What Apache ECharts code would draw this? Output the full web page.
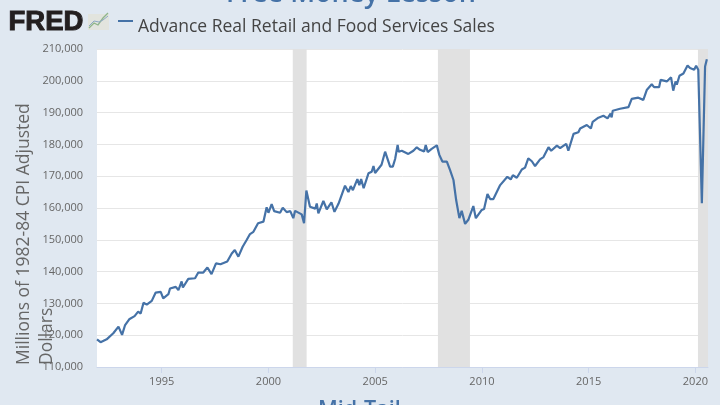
<!DOCTYPE html>
<html>
<head>
<meta charset="utf-8">
<script src="https://cdn.jsdelivr.net/npm/echarts@6/dist/echarts.min.js"></script>
<style>html,body{margin:0;padding:0;background:#e0e8f1}#c{width:720px;height:405px}</style>
</head>
<body>
<div id="c"></div>
<script>
const chartTitle = 'Free Money Lesson';
const bottomTitle = 'Mid-Tail';
const seriesName = 'Advance Real Retail and Food Services Sales';
const yTitleLines = ['Millions of 1982-84 CPI Adjusted', 'Dollars'];
const yearTicks = [1995, 2000, 2005, 2010, 2015, 2020];
const recessionStarts = [2001.14, 2007.94, 2020.12];
const recessionEnds = [2001.79, 2009.44, 2020.59];

// Points: months after the start of the line, and thousands of dollars.
const readMonths = [0,2,5.4,9.1,12,14,15.7,18,21,23,24.4,26,27.8,30.6,32.8,35.6,37,39.9,40.8,44,45.5,47.3,48,51,54.8,56.6,59.4,61.7,64,66.5,69,72.8,75.3,77,79,81.4,83.7,85.5,87.4,90,93,94.8,95.8,97.6,99,102.3,103.8,106,108,109.7,110.7,114.4,115.7,117,119,122,122.8,123.7,126.5,128.4,131,132.7,135,138.6,140.5,141.8,143,145.5,146.6,147.6,149,151.7,153.5,154.5,155.4,159,161,162,163.8,165.3,166.6,168,168.6,170.3,174,176.8,178.7,180.5,181.5,182.8,183.7,184.8,187,189.9,191.3,193,195.5,197.3,199.2,200.7,202.5,203.8,205.7,207.5,210.3,211.7,215,216.3,218.2,219.7,221.5,225.3,229.3,231.2,232.4,234.6,237.4,239.2,241,243,244.8,247.6,249.5,252.3,253.8,257,258.8,262.2,263.4,266.3,269,270,270.9,273.7,276,277,280.2,283,285.3,286.4,287,287.6,288.2,292.3,297,298.8,302.5,305.3,307.2,310,311.3,314.1,315,318.4,320.8,322,323.3,324,325.5,327.7,330,331.4,333.7,334.8,336,338,339.8,340.8];
const readValues = [118.7,117.8,118.7,120.6,122.7,120.1,123.2,125,126,127.4,126.8,130.2,129.6,130.8,133.4,133.6,131.6,132.9,134.7,135.2,134.2,136.9,135,137.7,137.9,139.7,139.7,141.3,139.2,142.6,142.3,143.2,145.7,146.8,144.7,147.8,150,151.8,152.5,155.2,155.7,160.2,158.5,161.2,159,158.5,160.1,158.7,159,156.8,159.1,158,155.2,165.5,160.4,159.8,161.4,158.3,162.2,159.6,161.8,158.8,161.4,167,165,166.9,165.6,169.1,167.2,169.1,166.2,170.9,171.4,173.2,171,173.6,177.7,177.7,173,173,175.4,179.8,177.7,178,177,178,179.1,178.3,178.9,177.8,179.8,177.6,178.6,179.7,176.7,174.6,174.6,171.9,168.8,162.5,156.8,159.1,155,156.3,160.6,156.8,159.4,159.7,164.4,162.8,162.8,167.2,169.8,169,170.3,169.5,172.1,172.7,175.6,174.7,173.2,175.3,176,179.1,178,179.6,178.8,180.2,178,183.3,183.8,185,184.4,186.1,185,187.1,188.4,189,188.2,188.4,189.7,188.5,190.6,191.2,191.7,194.3,194.7,194,197.1,198.9,198,198,200.3,199.8,201.1,196.9,199.8,198.8,201.6,202.3,204.8,204,203.5,204.7,203.5,161.5,204.5,206.8];

const lineStart = 1991.97;
const monthsPerYearOnPicture = 11.93;
const lineData = readMonths.map((m, i) => [lineStart + m / monthsPerYearOnPicture, readValues[i] * 1000]);
const bands = recessionStarts.map((s, i) => [{xAxis: s}, {xAxis: recessionEnds[i]}]);

const sans = '"Open Sans", sans-serif';
const chart = echarts.init(document.getElementById('c'), null, {renderer: 'canvas'});
chart.setOption({
  animation: false,
  backgroundColor: '#e0e8f1',
  textStyle: {fontFamily: sans},
  title: [
    {text: chartTitle, left: 221, top: -24, textStyle: {fontFamily: sans, fontSize: 27, fontWeight: 600, color: '#4572a7'}},
    {text: bottomTitle, left: 313, top: 394, textStyle: {fontFamily: sans, fontSize: 21.5, fontWeight: 600, color: '#4572a7'}}
  ],
  legend: {
    left: 113, top: 1, icon: 'rect', itemWidth: 15, itemHeight: 2, itemGap: 5,
    formatter: name => '{a|' + name + '}',
    textStyle: {rich: {a: {fontFamily: sans, fontSize: 17.5, color: '#444', lineHeight: 24, padding: [12, 0, 0, 0]}}},
    data: [seriesName]
  },
  grid: {left: 97, right: 12, top: 49, bottom: 38, show: true, backgroundColor: '#fff', borderWidth: 0, outerBoundsMode: 'none'},
  xAxis: {
    type: 'value', min: lineStart, max: 2020.59, splitLine: {show: false},
    axisLine: {show: true, lineStyle: {color: '#ccd6eb'}},
    axisTick: {show: true, length: 6, lineStyle: {color: '#ccd6eb'}, customValues: yearTicks},
    axisLabel: {color: '#666', fontSize: 11, margin: 9, customValues: yearTicks, formatter: v => String(Math.round(v))}
  },
  yAxis: {
    type: 'value', min: 110000, max: 210000, interval: 10000,
    axisLine: {show: false}, axisTick: {show: false},
    splitLine: {lineStyle: {color: '#e6e6e6', width: 1}},
    axisLabel: {color: '#666', fontSize: 11, margin: 14, formatter: v => v.toLocaleString('en-US')}
  },
  series: [{
    name: seriesName, type: 'line', data: lineData, showSymbol: false, smooth: false, clip: false,
    lineStyle: {color: '#4572a7', width: 2.2}, itemStyle: {color: '#4572a7'},
    markArea: {silent: true, itemStyle: {color: '#e1e1e1'}, data: bands}
  }],
  graphic: [
    {type: 'text', x: 24, y: 365, rotation: Math.PI / 2, z: 100, style: {text: yTitleLines[0], font: '17.5px "Open Sans"', fill: '#666', align: 'left', verticalAlign: 'middle'}},
    {type: 'text', x: 47, y: 365, rotation: Math.PI / 2, z: 100, style: {text: yTitleLines[1], font: '17.5px "Open Sans"', fill: '#666', align: 'left', verticalAlign: 'middle'}},
    {type: 'text', left: 8, top: 8, style: {text: 'FRED', font: 'bold 27.5px "Liberation Sans"', fill: '#231f20', stroke: '#231f20', lineWidth: 1}},
    {type: 'rect', shape: {x: 88, y: 14, width: 21, height: 16}, style: {fill: '#e2e4de'}},
    {type: 'polyline', shape: {points: [[89, 28], [94, 23], [98, 25], [103, 18], [108, 13]]}, style: {stroke: '#8fb58a', lineWidth: 1.3, fill: 'none'}},
    {type: 'polyline', shape: {points: [[89, 26], [94, 21], [99, 22], [103, 20], [108, 16]]}, style: {stroke: '#8ea9c4', lineWidth: 1, fill: 'none'}}
  ]
});
</script>
</body>
</html>
